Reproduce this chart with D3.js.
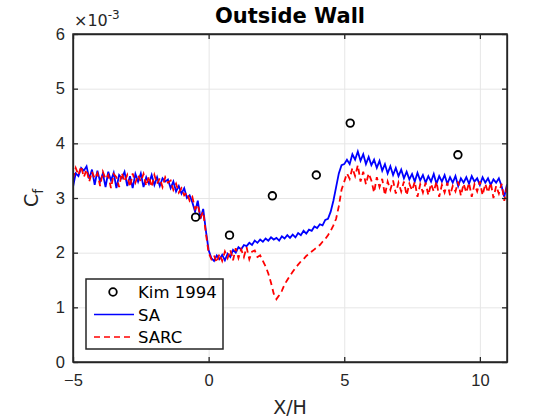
<!DOCTYPE html>
<html>
<head>
<meta charset="utf-8">
<script src="https://cdn.jsdelivr.net/npm/d3@7"></script>
<style>
  body { margin: 0; background: #fff; }
  svg { font-family: 'DejaVu Sans', sans-serif; }
  .grid line { stroke: #e6e6e6; stroke-width: 1; }
  .grid path { display: none; }
  .axis text { fill: #262626; font-size: 16.5px; }
  .axis path, .axis line { stroke: #262626; stroke-width: 1.3; }
</style>
</head>
<body>
<div id="chart"></div>
<script>
// X/H sample positions shared by both simulations
const xPos = [
  -5.0,-4.9,-4.8,-4.7,-4.6,-4.5,-4.4,-4.3,-4.2,-4.1,
  -4.0,-3.9,-3.8,-3.7,-3.6,-3.5,-3.4,-3.3,-3.2,-3.1,
  -3.0,-2.9,-2.8,-2.7,-2.6,-2.5,-2.4,-2.3,-2.2,-2.1,
  -2.0,-1.9,-1.8,-1.7,-1.6,-1.5,-1.4,-1.3,-1.2,-1.1,
  -1.0,-0.9,-0.8,-0.7,-0.6,-0.5,-0.4,-0.3,-0.2,-0.1,
  0.0,0.1,0.2,0.3,0.4,0.5,0.6,0.7,0.8,0.9,
  1.0,1.1,1.2,1.3,1.4,1.5,1.6,1.7,1.8,1.9,
  2.0,2.1,2.2,2.3,2.4,2.5,2.6,2.7,2.8,2.9,
  3.0,3.1,3.2,3.3,3.4,3.5,3.6,3.7,3.8,3.9,
  4.0,4.1,4.2,4.3,4.4,4.5,4.6,4.7,4.8,4.9,
  5.0,5.1,5.2,5.3,5.4,5.5,5.6,5.7,5.8,5.9,
  6.0,6.1,6.2,6.3,6.4,6.5,6.6,6.7,6.8,6.9,
  7.0,7.1,7.2,7.3,7.4,7.5,7.6,7.7,7.8,7.9,
  8.0,8.1,8.2,8.3,8.4,8.5,8.6,8.7,8.8,8.9,
  9.0,9.1,9.2,9.3,9.4,9.5,9.6,9.7,9.8,9.9,
  10.0,10.1,10.2,10.3,10.4,10.5,10.6,10.7,10.8,10.9,
  11.0
];

// Cf (x1e-3), SA model
const saCf = [
  3.20,3.45,3.40,3.55,3.50,3.58,3.35,3.52,3.24,3.50,
  3.30,3.45,3.20,3.48,3.32,3.46,3.18,3.42,3.36,3.48,
  3.22,3.40,3.18,3.44,3.30,3.45,3.20,3.38,3.26,3.42,
  3.24,3.38,3.22,3.36,3.30,3.34,3.18,3.30,3.12,3.22,
  3.08,3.18,3.00,3.05,2.92,2.75,2.95,2.62,2.80,2.40,
  2.05,1.90,1.85,1.95,1.88,1.96,1.86,1.98,1.92,2.05,
  2.00,2.10,2.06,2.14,2.12,2.18,2.14,2.22,2.18,2.24,
  2.20,2.26,2.22,2.28,2.24,2.27,2.22,2.30,2.26,2.32,
  2.27,2.33,2.28,2.36,2.32,2.40,2.35,2.42,2.40,2.48,
  2.45,2.52,2.50,2.60,2.62,2.75,2.95,3.20,3.45,3.60,
  3.62,3.70,3.62,3.80,3.70,3.85,3.68,3.80,3.62,3.75,
  3.60,3.70,3.55,3.68,3.50,3.62,3.45,3.58,3.42,3.55,
  3.40,3.52,3.36,3.48,3.34,3.44,3.30,3.46,3.32,3.42,
  3.28,3.40,3.30,3.44,3.26,3.40,3.30,3.42,3.26,3.38,
  3.28,3.40,3.22,3.36,3.28,3.38,3.26,3.40,3.30,3.36,
  3.24,3.38,3.28,3.36,3.24,3.34,3.28,3.36,3.22,3.02,
  3.25
];

// Cf (x1e-3), SARC model
const sarcCf = [
  3.35,3.55,3.42,3.58,3.38,3.52,3.30,3.48,3.36,3.45,
  3.22,3.48,3.35,3.42,3.18,3.44,3.38,3.20,3.46,3.30,
  3.42,3.20,3.45,3.28,3.42,3.30,3.44,3.22,3.40,3.20,
  3.42,3.26,3.36,3.20,3.38,3.28,3.32,3.15,3.26,3.10,
  3.18,3.05,3.10,2.95,3.02,2.80,2.88,2.65,2.75,2.35,
  2.00,1.88,1.95,1.82,1.98,1.85,2.02,1.90,2.05,1.86,
  2.08,1.90,2.06,1.92,2.10,1.88,2.02,2.04,1.92,1.95,
  1.85,1.75,1.62,1.45,1.25,1.15,1.22,1.30,1.42,1.50,
  1.58,1.65,1.72,1.78,1.84,1.88,1.94,1.98,2.02,2.06,
  2.10,2.14,2.20,2.25,2.32,2.40,2.50,2.62,2.85,3.15,
  3.30,3.45,3.35,3.55,3.40,3.60,3.30,3.48,3.25,3.45,
  3.32,3.10,3.38,3.20,3.35,3.05,3.30,3.15,3.32,3.08,
  3.28,3.12,3.30,3.05,3.26,3.14,3.30,3.02,3.25,3.10,
  3.28,3.05,3.26,3.12,3.30,3.02,3.24,3.10,3.28,3.05,
  3.22,3.12,3.30,3.04,3.26,3.10,3.28,3.02,3.25,3.12,
  3.30,3.05,3.26,3.10,3.28,3.00,3.22,3.08,3.26,2.95,
  3.22
];

// Kim 1994 experiment
const kimX  = [-0.48, 0.77, 2.35, 3.97, 5.22, 9.19];
const kimCf = [ 2.65, 2.32, 3.04, 3.42, 4.37, 3.79];

const xTicks = [-5, 0, 5, 10];
const yTicks = [0, 1, 2, 3, 4, 5, 6];

////////////////////////////////////////////////////////
const margin = {top: 34, right: 53, bottom: 58, left: 73};
const width = 560 - margin.left - margin.right;
const height = 420 - margin.top - margin.bottom;

const svg = d3.select('#chart')
    .append('svg')
        .attr('width', 560)
        .attr('height', 420);

const g = svg.append('g')
    .attr('transform', 'translate(' + margin.left + ',' + margin.top + ')');

const x = d3.scaleLinear().domain([-5, 11]).range([0, width]);
const y = d3.scaleLinear().domain([0, 6]).range([height, 0]);

// grid lines
g.append('g')
    .attr('class', 'grid')
    .attr('transform', 'translate(0,' + height + ')')
    .call(d3.axisBottom(x).tickValues(xTicks).tickSize(-height).tickFormat(''));
g.append('g')
    .attr('class', 'grid')
    .call(d3.axisLeft(y).tickValues(yTicks).tickSize(-width).tickFormat(''));

// clip lines to axes
g.append('clipPath').attr('id', 'clip')
    .append('rect').attr('width', width).attr('height', height);

const sa = xPos.map((d, i) => ({x: d, y: saCf[i]}));
const sarc = xPos.map((d, i) => ({x: d, y: sarcCf[i]}));

const line = d3.line().x(d => x(d.x)).y(d => y(d.y));

g.append('path')
    .datum(sa)
    .attr('clip-path', 'url(#clip)')
    .attr('fill', 'none')
    .attr('stroke', '#0000ff')
    .attr('stroke-width', 1.8)
    .attr('d', line);

g.append('path')
    .datum(sarc)
    .attr('clip-path', 'url(#clip)')
    .attr('fill', 'none')
    .attr('stroke', '#ff0000')
    .attr('stroke-width', 1.8)
    .attr('stroke-dasharray', '6,4')
    .attr('d', line);

g.selectAll('.kim')
    .data(kimX)
    .enter().append('circle')
    .attr('class', 'kim')
    .attr('cx', d => x(d))
    .attr('cy', (d, i) => y(kimCf[i]))
    .attr('r', 3.8)
    .attr('fill', 'none')
    .attr('stroke', '#000')
    .attr('stroke-width', 1.8);

// axes, ticks point inward like matlab
g.append('g')
    .attr('class', 'axis')
    .attr('transform', 'translate(0,' + height + ')')
    .call(d3.axisBottom(x).tickValues(xTicks).tickFormat(d3.format('d'))
        .tickSizeInner(-5).tickSizeOuter(0).tickPadding(12));
g.append('g')
    .attr('class', 'axis')
    .call(d3.axisTop(x).tickValues(xTicks).tickSizeInner(-5).tickSizeOuter(0).tickFormat(''));
g.append('g')
    .attr('class', 'axis')
    .call(d3.axisLeft(y).tickValues(yTicks).tickFormat(d3.format('d'))
        .tickSizeInner(-5).tickSizeOuter(0).tickPadding(8));
g.append('g')
    .attr('class', 'axis')
    .attr('transform', 'translate(' + width + ',0)')
    .call(d3.axisRight(y).tickValues(yTicks).tickSizeInner(-5).tickSizeOuter(0).tickFormat(''));

g.append('rect')
    .attr('width', width)
    .attr('height', height)
    .attr('fill', 'none')
    .attr('stroke', '#262626')
    .attr('stroke-width', 1.5);

// title and labels
svg.append('text')
    .attr('x', margin.left + width / 2)
    .attr('y', 23)
    .attr('text-anchor', 'middle')
    .style('font-size', '21px')
    .style('font-weight', 'bold')
    .style('fill', '#000')
    .text('Outside Wall');

const expo = svg.append('text')
    .attr('x', 74)
    .attr('y', 26)
    .style('font-size', '16px')
    .style('fill', '#262626');
expo.append('tspan').text('\u00d710');
expo.append('tspan').attr('dy', -7).style('font-size', '12px').text('-3');

svg.append('text')
    .attr('x', margin.left + width / 2)
    .attr('y', 414)
    .attr('text-anchor', 'middle')
    .style('font-size', '19px')
    .style('fill', '#262626')
    .text('X/H');

const yl = svg.append('text')
    .attr('transform', 'translate(38,' + (margin.top + height / 2) + ') rotate(-90)')
    .attr('text-anchor', 'middle')
    .style('font-size', '19px')
    .style('fill', '#262626');
yl.append('tspan').text('C');
yl.append('tspan').attr('dy', 5).style('font-size', '14px').text('f');

// legend
const lg = svg.append('g').attr('transform', 'translate(86,279)');
lg.append('rect')
    .attr('width', 137)
    .attr('height', 70)
    .attr('fill', '#fff')
    .attr('stroke', '#262626')
    .attr('stroke-width', 1.5);

const legendItems = ['Kim 1994', 'SA', 'SARC'];
legendItems.forEach(function (name, i) {
    const yy = 13 + i * 22.5;
    if (i === 0) {
        lg.append('circle').attr('cx', 27).attr('cy', yy).attr('r', 3.8)
            .attr('fill', 'none').attr('stroke', '#000').attr('stroke-width', 1.8);
    } else {
        lg.append('line').attr('x1', 8).attr('x2', 48).attr('y1', yy).attr('y2', yy)
            .attr('stroke', i === 1 ? '#0000ff' : '#ff0000')
            .attr('stroke-width', 1.5)
            .attr('stroke-dasharray', i === 2 ? '6,4' : null);
    }
    lg.append('text')
        .attr('x', 52)
        .attr('y', yy + 6)
        .style('font-size', '16.5px')
        .style('fill', '#000')
        .text(name);
});
</script>
</body>
</html>
